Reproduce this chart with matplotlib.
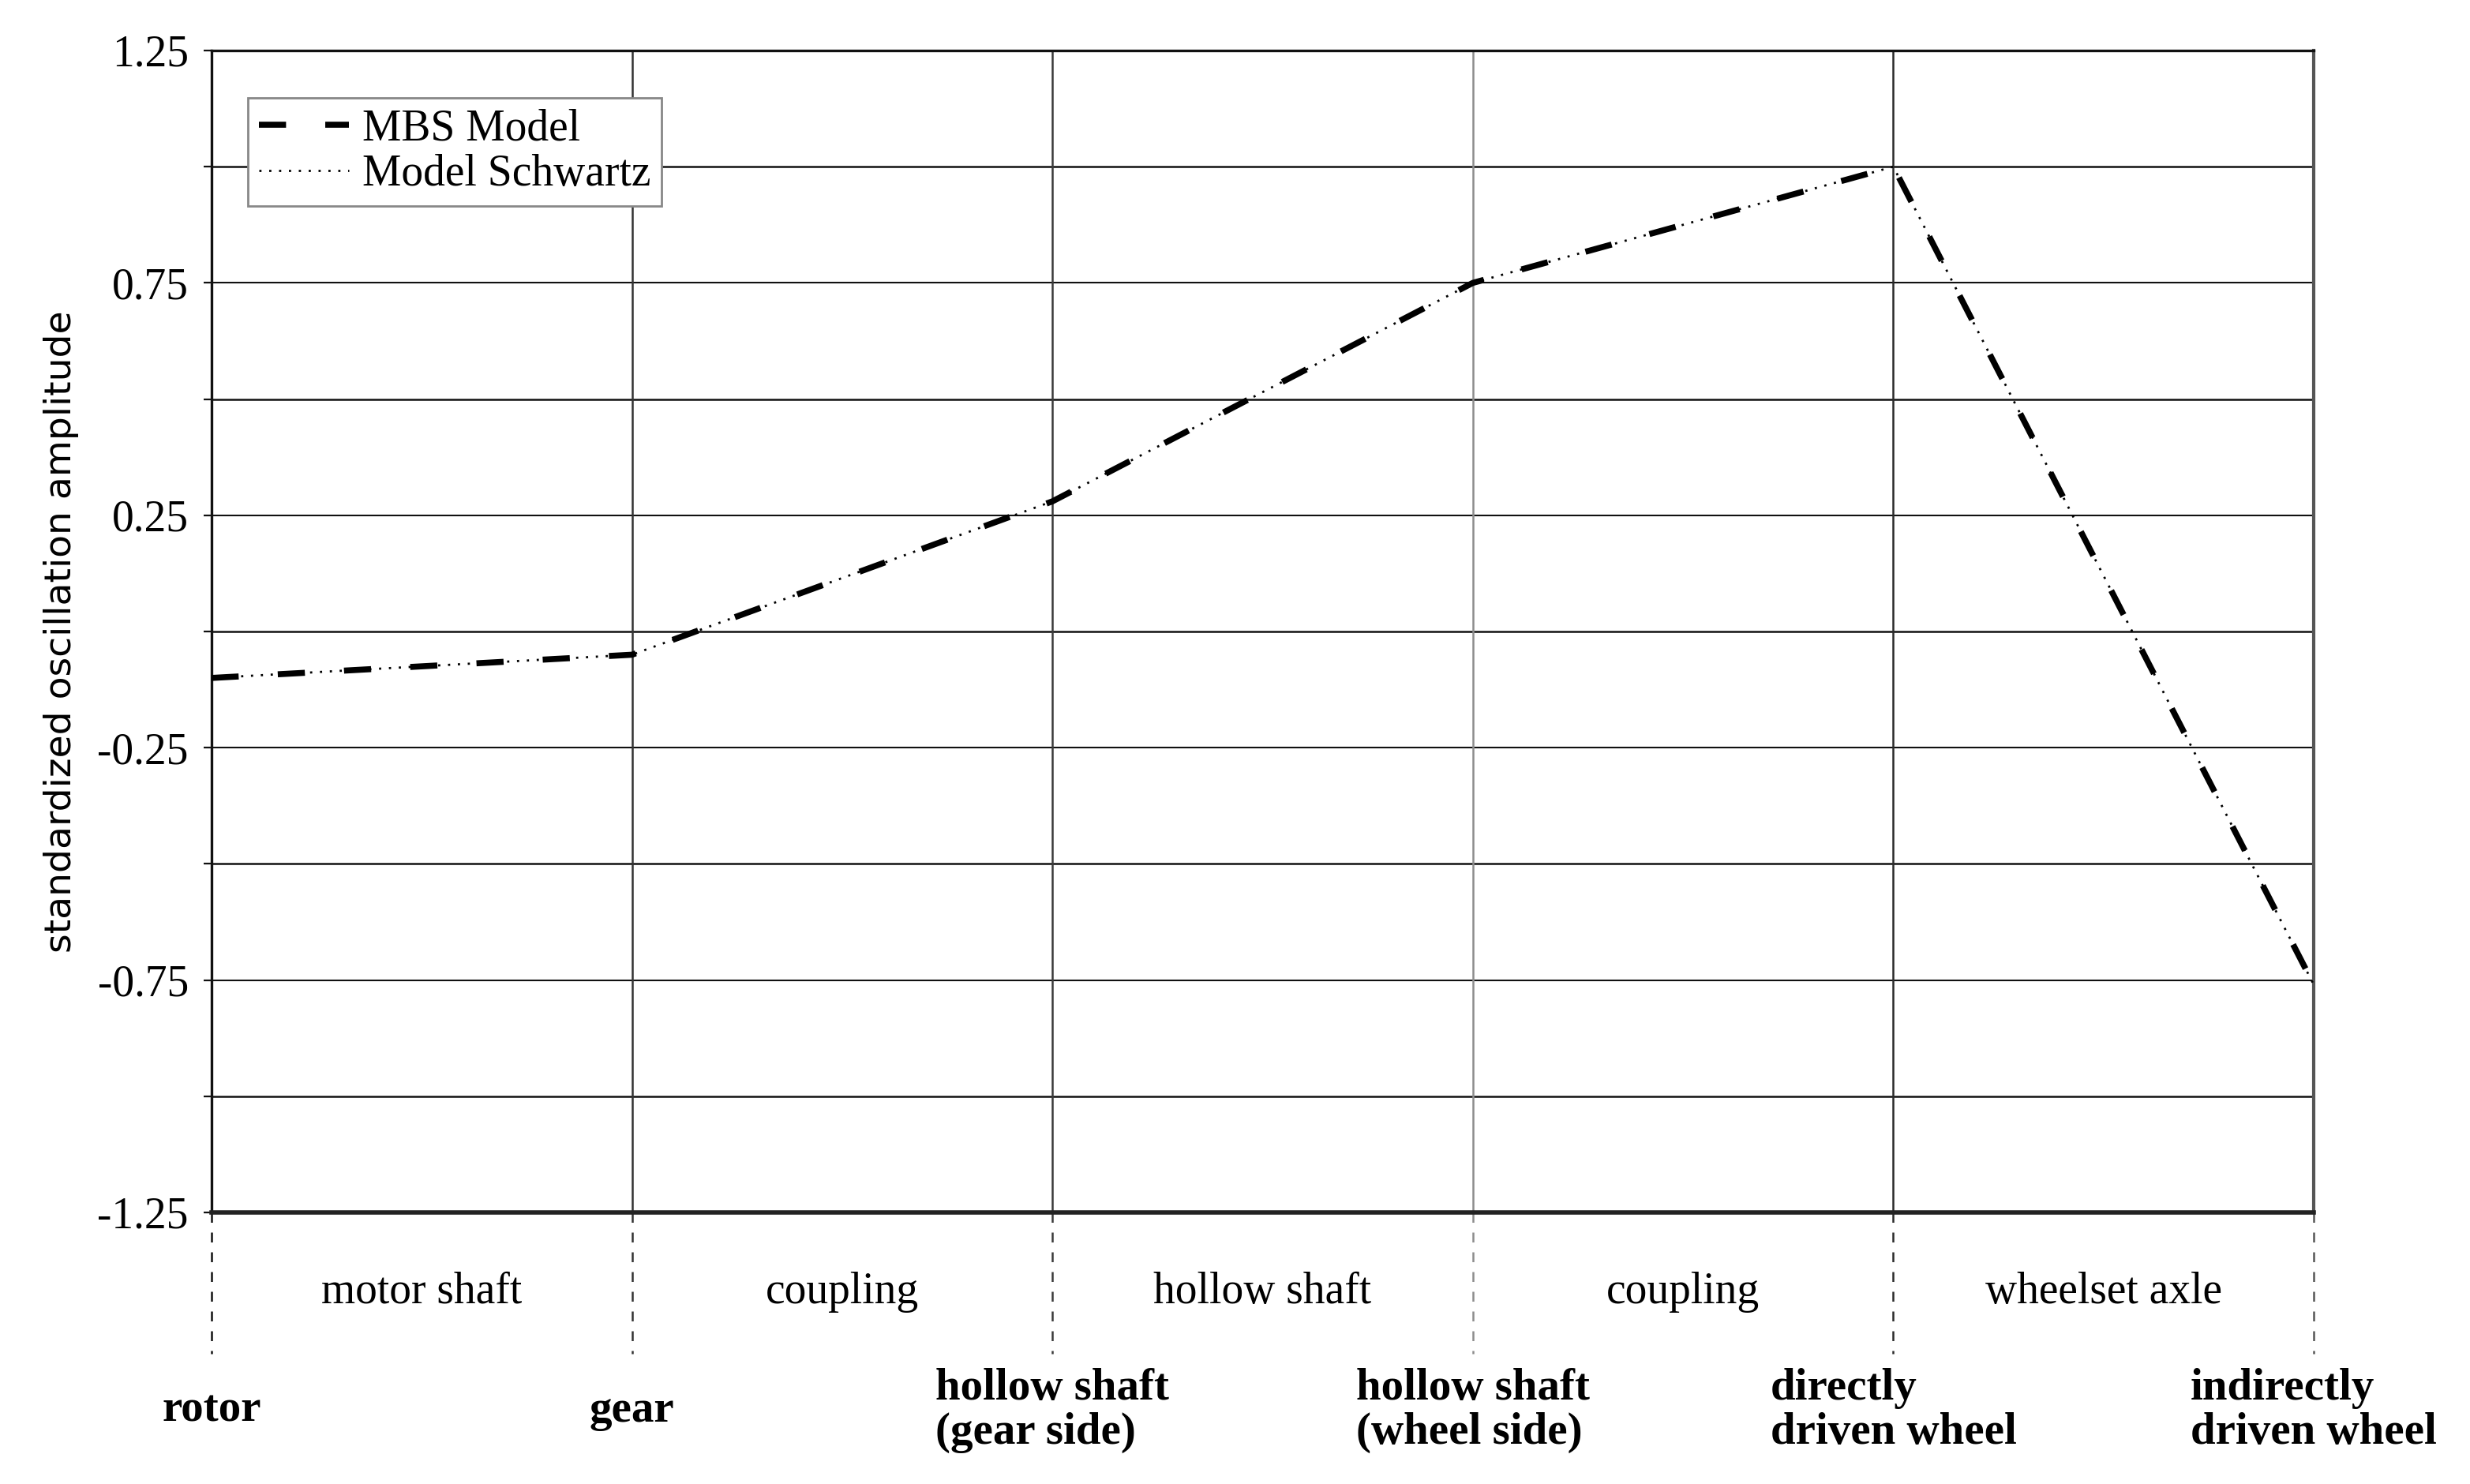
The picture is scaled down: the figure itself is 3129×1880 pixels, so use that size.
import matplotlib
matplotlib.use("Agg")
import matplotlib.pyplot as plt
import matplotlib.transforms as mtransforms

# ===== DATA =====
node_labels = ["rotor", "gear", "hollow shaft\n(gear side)", "hollow shaft\n(wheel side)",
               "directly\ndriven wheel", "indirectly\ndriven wheel"]
segment_labels = ["motor shaft", "coupling", "hollow shaft", "coupling", "wheelset axle"]
mbs_model = [-0.10, -0.05, 0.28, 0.75, 1.00, -0.76]
model_schwartz = [-0.10, -0.05, 0.28, 0.75, 1.00, -0.76]
y_ticks = [-1.25, -1.0, -0.75, -0.5, -0.25, 0.0, 0.25, 0.5, 0.75, 1.0, 1.25]
y_tick_labels = ["-1.25", "", "-0.75", "", "-0.25", "", "0.25", "", "0.75", "", "1.25"]

# ===== STYLE =====
SERIF = "Liberation Serif"
vline_colors = ["#111111", "#333333", "#3a3a3a", "#8c8c8c", "#2a2a2a", "#555555"]

fig = plt.figure(figsize=(31.29, 18.80), dpi=100)
ax = fig.add_axes([0.08565, 0.18298, 0.8511, 0.7830])

x = list(range(len(node_labels)))

# horizontal grid
for yv in y_ticks[1:-1]:
    ax.axhline(yv, color="#111111", lw=1.8 if yv in (0.0, 0.5, -0.5, 1.0, -1.0) else 1.5, zorder=1)

# vertical separators inside the plot
for xi in x[1:-1]:
    ax.axvline(xi, color=vline_colors[xi], lw=1.8, zorder=1)

# the two curves
ax.plot(x, model_schwartz, color="black", lw=2.0, dashes=(1, 3.5), zorder=3, label="Model Schwartz")
ax.plot(x, mbs_model, color="black", lw=5.5, dashes=(4.5, 6.5), zorder=4, label="MBS Model")

ax.set_xlim(0, 5)
ax.set_ylim(-1.25, 1.25)
ax.set_xticks([])
ax.set_yticks(y_ticks)
ax.set_yticklabels(y_tick_labels, fontname=SERIF, fontsize=40)
ax.tick_params(axis="y", direction="out", length=7, width=1.6, pad=14, color="#111111")

ax.spines["left"].set_color("#111111")
ax.spines["left"].set_linewidth(2.4)
ax.spines["top"].set_color("#111111")
ax.spines["top"].set_linewidth(2.4)
ax.spines["bottom"].set_color("#222222")
ax.spines["bottom"].set_linewidth(4.0)
ax.spines["right"].set_color("#555555")
ax.spines["right"].set_linewidth(3.0)

ax.set_ylabel("standardized oscillation amplitude", fontname="DejaVu Sans", fontsize=34)
ax.yaxis.set_label_coords(-0.063, 0.5)

# ===== LABELS BELOW THE AXIS =====
trans = mtransforms.blended_transform_factory(ax.transData, ax.transAxes)
for xi in x:
    ax.plot([xi, xi], [0, -0.1216], transform=trans, clip_on=False,
            color=vline_colors[xi], lw=1.8, dashes=(5, 5))
    ax.text(xi, -0.1705, node_labels[xi], transform=trans, ha="center", va="center",
            multialignment="left", fontname=SERIF, fontweight="bold", fontsize=41,
            linespacing=1.1)

for i, seg in enumerate(segment_labels):
    ax.text(i + 0.5, -0.0686, seg, transform=trans, ha="center", va="center",
            fontname=SERIF, fontsize=40)

# ===== LEGEND =====
handles, labels = ax.get_legend_handles_labels()
leg = ax.legend(handles[::-1], labels[::-1], loc="upper left", bbox_to_anchor=(0.0173, 0.9592),
                borderaxespad=0, fancybox=False, framealpha=1, edgecolor="#888888",
                prop={"family": SERIF, "size": 40}, handlelength=2.05, handletextpad=0.3,
                borderpad=0.25, labelspacing=0.1)
leg.get_frame().set_linewidth(2.0)
leg.set_zorder(5)

fig.savefig("out.png", dpi=100)
